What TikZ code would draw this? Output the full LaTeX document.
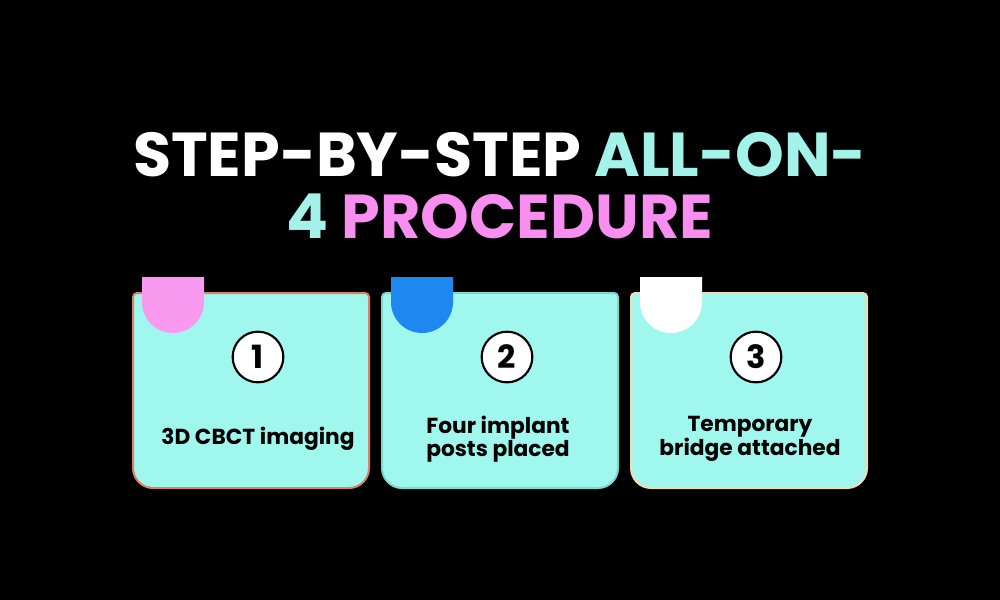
\documentclass[tikz,border=0pt]{standalone}
\usepackage{fontspec}
\setmainfont{Poppins}
\definecolor{cardfill}{HTML}{A0F7EE}
\definecolor{titlecyan}{HTML}{A3F3EA}
\definecolor{titlepink}{HTML}{F78EF0}
\definecolor{tabpink}{HTML}{F99AF0}
\definecolor{tabblue}{HTML}{1E88F0}
\definecolor{edgeone}{HTML}{D9826A}
\definecolor{edgetwo}{HTML}{7FD8CF}
\definecolor{edgethree}{HTML}{F2DDB0}
\tikzset{
  numcircle/.style={circle, draw=black, line width=1.6pt, fill=white, minimum size=38pt, inner sep=0pt, font=\bfseries\fontsize{24}{24}\selectfont},
  steptext/.style={align=center, font=\bfseries\fontsize{16.3}{17}\selectfont},
  titletext/.style={font=\bfseries\fontsize{46.5}{50}\selectfont}
}
\begin{document}
\begin{tikzpicture}[x=0.75pt, y=0.75pt]
    \fill[black] (0,0) rectangle (1000,-600);
    \useasboundingbox (0,0) rectangle (1000,-600);

    % Title
    \node[titletext, white] (title1) at (500,-155) {STEP-BY-STEP \textcolor{titlecyan}{ALL-ON-}};
    \node[titletext, titlepink] (title2) at (500,-216) {\textcolor{titlecyan}{4} PROCEDURE};

    % Cards
    \foreach \x/\edge/\tab/\n in {133/edgeone/tabpink/1, 382/edgetwo/tabblue/2, 631/edgethree/white/3} {
        \draw[fill=cardfill, draw=\edge, line width=1.5pt]
            (\x+4,-293) -- (\x+232,-293) arc[start angle=90, end angle=0, radius=4]
            -- (\x+236,-468) arc[start angle=0, end angle=-90, radius=20]
            -- (\x+20,-488) arc[start angle=270, end angle=180, radius=20]
            -- (\x,-297) arc[start angle=180, end angle=90, radius=4] -- cycle;
        \fill[\tab] (\x+9,-277) -- (\x+71,-277) -- (\x+71,-302)
            arc[start angle=0, end angle=-180, radius=31] -- cycle;
        \node[numcircle] (num\n) at (\x+125,-357) {\n};
    }

    \node[steptext] (text1) at (258,-439) {3D CBCT imaging};
    \node[steptext] (text2) at (498,-439) {Four implant\\posts placed};
    \node[steptext] (text3) at (750,-439) {Temporary\\bridge attached};
\end{tikzpicture}
\end{document}
